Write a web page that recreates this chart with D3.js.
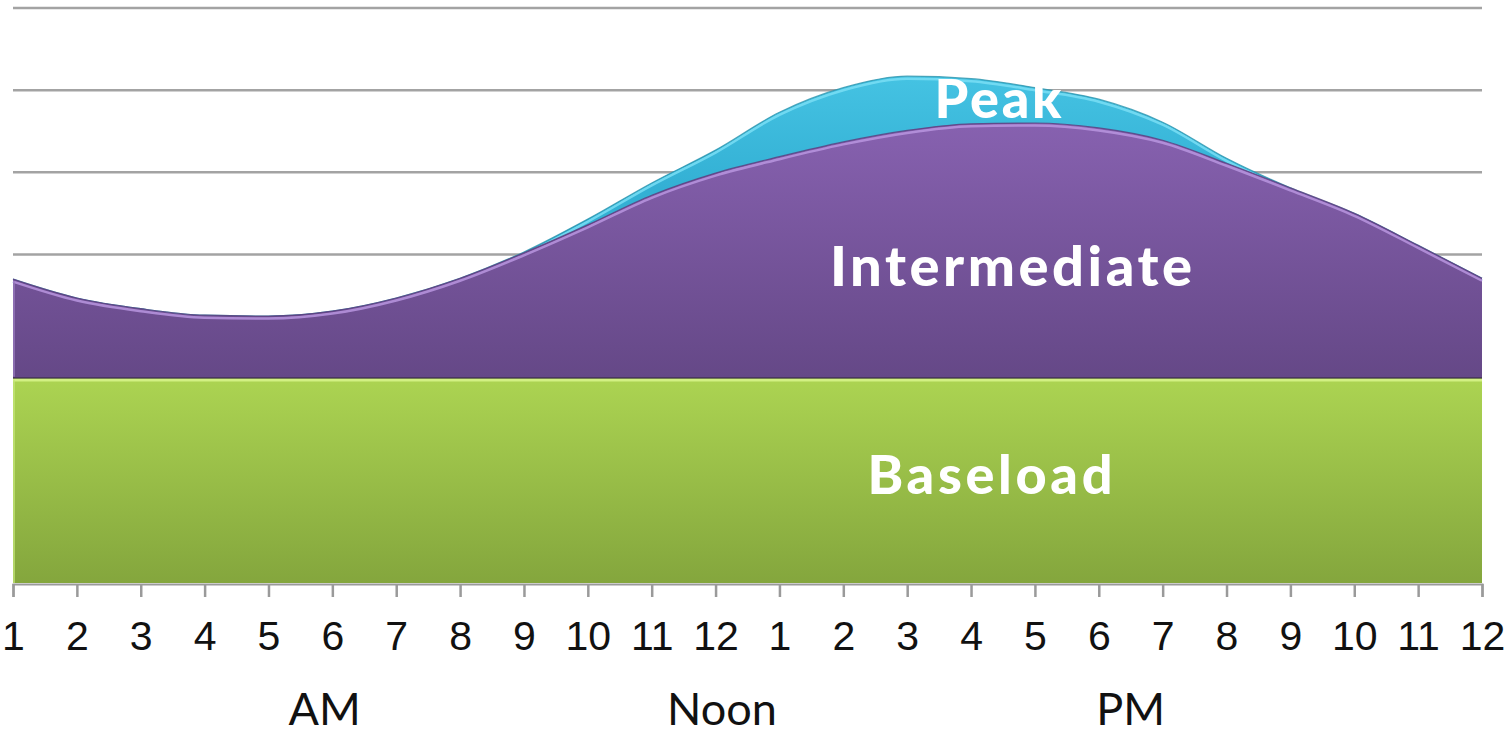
<!DOCTYPE html>
<html><head><meta charset="utf-8">
<script src="https://cdn.jsdelivr.net/npm/d3@7"></script>
<style>html,body{margin:0;padding:0;background:#fff;}svg{display:block;}</style>
</head><body>
<svg id="chart" width="1510" height="735"></svg>
<script>
const hourLabels = ["1","2","3","4","5","6","7","8","9","10","11","12","1","2","3","4","5","6","7","8","9","10","11","12"];
const baseload = [25,25,25,25,25,25,25,25,25,25,25,25,25,25,25,25,25,25,25,25,25,25,25,25];
const intermediate = [12.0,9.7,8.4,7.6,7.5,8.1,9.7,12.1,15.2,18.6,22.2,24.9,26.9,28.7,30.1,30.9,31.0,30.4,28.9,26.1,23.1,20.0,16.1,12.1];
const peak = [0,0,0,0,0,0,0,0,0.1,0.7,1.5,2.8,5.4,6.6,6.6,5.5,4.3,3.5,2.2,0.6,0,0,0,0];
const gridValues = [10,20,30,40,50,60,70];
const periodLabels = ["AM","Noon","PM"];
const periodPos = [4.88,11.1,17.5];
const layerLabels = ["Baseload","Intermediate","Peak"];

const svg = d3.select("#chart");
const x = d3.scaleLinear().domain([0,23]).range([13,1482]);
const y = d3.scaleLinear().domain([0,70]).range([583,8]);

const rows = hourLabels.map((h,i)=>({i, baseload:baseload[i], intermediate:intermediate[i], peak:peak[i]}));
const stack = d3.stack().keys(["baseload","intermediate","peak"]);
const series = stack(rows);

const defs = svg.append("defs");
function grad(id, y1, y2, c1, c2){
  const g = defs.append("linearGradient").attr("id",id).attr("gradientUnits","userSpaceOnUse")
    .attr("x1",0).attr("x2",0).attr("y1",y1).attr("y2",y2);
  g.append("stop").attr("offset","0%").attr("stop-color",c1);
  g.append("stop").attr("offset","100%").attr("stop-color",c2);
}
grad("gGreen", y(25), y(0), "#acd452", "#84a63d");
grad("gPurple", y(57), y(25), "#8862b1", "#654887");
grad("gCyan", y(62), y(48), "#45c3e3", "#33b0d4");

// gridlines
svg.append("g").selectAll("line").data(gridValues).join("line")
  .attr("x1",x(0)).attr("x2",x(23)).attr("y1",d=>y(d)).attr("y2",d=>y(d))
  .attr("stroke","#a3a3a3").attr("stroke-width",2.5);

const curve = d3.curveMonotoneX;
const area = d3.area().x(d=>x(d.data.i)).y0(d=>y(d[0])).y1(d=>y(d[1])).curve(curve);
const topLine = d3.line().x(d=>x(d.data.i)).y(d=>y(d[1])).curve(curve);

const fills = ["url(#gGreen)","url(#gPurple)","url(#gCyan)"];
const edgeDark = ["#5a7a26","#5a3f7e","#2b93ad"];
const edgeLight = ["#d8f58c","#b995df","#79def5"];

[2,1,0].forEach(k=>{
  const s = series[k];
  const data = k===2 ? s.map(d=>Object.assign([series[1][d.data.i][0], d[1]],{data:d.data})) : s;
  svg.append("path").datum(data).attr("d",area).attr("fill",fills[k]);
  svg.append("path").datum(s).attr("d",topLine).attr("fill","none")
    .attr("stroke",edgeLight[k]).attr("stroke-width",2.5).attr("transform","translate(0,2.5)").attr("opacity",0.85);
  svg.append("path").datum(s).attr("d",topLine).attr("fill","none")
    .attr("stroke",edgeDark[k]).attr("stroke-width",1.2).attr("opacity",0.8);
});
svg.append("line").attr("x1",x(0)+1).attr("x2",x(0)+1).attr("y1",y(25)+2).attr("y2",y(0))
  .attr("stroke","#c6e87a").attr("stroke-width",2).attr("opacity",0.7);
svg.append("line").attr("x1",x(0)+1).attr("x2",x(0)+1).attr("y1",y(37)+2).attr("y2",y(25)-1)
  .attr("stroke","#9a7cc0").attr("stroke-width",2).attr("opacity",0.7);
svg.append("line").attr("x1",x(0)).attr("x2",x(23)).attr("y1",y(25)).attr("y2",y(25))
  .attr("stroke","#4a3760").attr("stroke-width",1.5);

// x axis
const axis = d3.axisBottom(x).tickValues(d3.range(24)).tickFormat(i=>hourLabels[i]).tickSize(13).tickPadding(24);
const ax = svg.append("g").attr("transform",`translate(0,${y(0)+1})`).call(axis);
ax.select(".domain").attr("stroke","#9a9a9a").attr("stroke-width",2);
ax.selectAll(".tick line").attr("stroke","#9a9a9a").attr("stroke-width",2.5);
ax.selectAll(".tick text").attr("fill","#111").style("font-family","'Liberation Sans', Arial, sans-serif").style("font-size","41px");

// period labels
svg.append("g").selectAll("text").data(periodLabels).join("text")
  .attr("x",(d,i)=>x(periodPos[i])).attr("y",725).attr("text-anchor","middle")
  .style("font-family","Lato, sans-serif").style("font-size","45px").attr("fill","#111").text(d=>d);

// layer labels
const lbl = [
  {t:layerLabels[0], cx:990, by:494, w:245, fs:54},
  {t:layerLabels[1], cx:1011, by:286, w:362, fs:56},
  {t:layerLabels[2], cx:998, by:118, w:127, fs:54}
];
svg.append("g").selectAll("text").data(lbl).join("text")
  .attr("x",d=>d.cx).attr("y",d=>d.by).attr("text-anchor","middle")
  .attr("textLength",d=>d.w).attr("lengthAdjust","spacing")
  .style("font-family","Lato, sans-serif").style("font-weight","900").style("font-size",d=>d.fs+"px")
  .attr("fill","#fff").text(d=>d.t);
</script>
</body></html>
